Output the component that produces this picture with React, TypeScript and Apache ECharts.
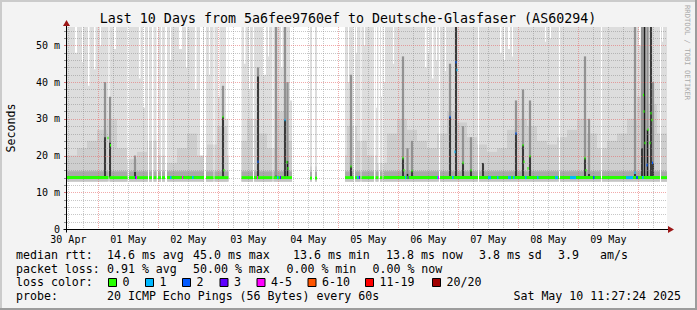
import React, { useEffect, useRef } from "react";
import * as echarts from "echarts";

const MONO = '"DejaVu Sans Mono", "Liberation Mono", monospace';

// time axis: hours since 30 Apr 00:00 (graph spans 30 Apr 11:27 .. 10 May 11:27)
const START_H = 11.45;
const END_H = 251.45;
const Y_MAX = 55; // ms
const SMOKE_MIN = 12.9;

const dayLabels = ["30 Apr", "01 May", "02 May", "03 May", "04 May", "05 May", "06 May", "07 May", "08 May", "09 May"];
const dayLabelHours = [12, 36, 60, 84, 108, 132, 156, 180, 204, 228];

// periods with data
const presentRuns = [[11.45, 76.05], [81.25, 101.45], [108.65, 109.45], [110.65, 111.45], [122.65, 251.45]];
const runMedian = [14.0, 14.0, 13.9, 13.9, 14.0];

// short periods without data
const gapHours = [28.05, 35.65, 43.85, 45.45, 47.25, 49.05, 50.65, 66.25, 70.05, 85.85, 93.65, 126.05, 128.85, 134.25, 136.05, 137.65, 160.25, 175.85, 208.25, 225.05, 248.65];
const gapWidths = [0.4, 0.6, 0.4, 0.6, 0.6, 0.4, 0.8, 0.8, 0.4, 0.4, 0.4, 0.6, 0.4, 0.6, 0.6, 0.4, 0.4, 0.4, 0.4, 0.4, 0.4];

// bins where the slowest ping stayed below the top of the graph
const notchHours = [14.65, 17.45, 19.85, 22.25, 24.65, 30.25, 40.25, 41.85, 52.65, 56.25, 59.05, 62.65, 64.65, 68.25, 71.85, 75.05, 82.25, 84.25, 89.85, 91.85, 97.05, 100.65, 123.85, 127.05, 130.25, 135.05, 137.05, 138.25, 141.85, 154.65, 155.85, 157.45, 159.05, 162.65, 184.65, 186.25, 187.85, 189.45, 202.65, 204.65, 240.25, 249.45];
const notchWidths = [0.8, 0.4, 0.6, 0.6, 0.4, 0.8, 0.6, 0.8, 0.4, 1.2, 0.4, 0.6, 1.2, 0.4, 0.6, 0.8, 0.6, 0.4, 1.2, 0.4, 0.6, 0.8, 0.4, 0.4, 0.4, 0.4, 0.4, 0.4, 0.4, 0.6, 0.4, 0.6, 0.4, 0.4, 0.6, 0.4, 0.8, 0.4, 0.4, 0.4, 0.8, 0.4];
const notchBottoms = [48, 45.5, 39, 43.5, 50, 49, 41, 33, 46, 49, 44, 38, 19.6, 42, 36, 30, 45, 38, 42, 47, 44, 35, 40, 48, 50, 33, 36, 40, 45, 44, 48, 41, 46, 43, 48, 46, 49, 47, 51, 52, 50, 51];

// upper edge of the denser smoke, 4-hour bins from START_H
const MID_BIN_H = 4;
const midTop = [20, 22, 24, 27, 30, 22, 19, 21, 24, 20, 18, 22, 26, 20, 23, 28, 20, 24, 30, 26, 22, 32, 24, 0, 17, 0, 0, 20, 28, 24, 20, 18, 26, 30, 27, 24, 22, 26, 32, 29, 25, 23, 21, 22, 27, 30, 28, 24, 23, 25, 27, 30, 26, 22, 24, 26, 30, 36, 34, 26];

// latency spikes
const spikeHours = [26.65, 28.65, 38.65, 73.85, 87.85, 95.05, 98.65, 99.65, 125.05, 145.85, 147.65, 149.45, 164.65, 167.05, 169.85, 173.05, 177.85, 191.05, 193.85, 196.65, 218.65, 220.25, 238.65, 241.45, 242.45, 243.65, 245.05, 245.85];
const spikeBlack = [25, 23.5, 15.5, 30.5, 41.5, 14.5, 29.7, 18.5, 17, 19.3, 15, 15.8, 30.5, 55, 18, 16, 18, 26, 22.8, 19.8, 19.3, 15, 15, 22, 55, 27, 55, 18];
const spikeDark = [40, 36, 20, 39, 44, 55, 55, 40, 42, 47, 22, 24, 45, 55, 28, 25, 18, 35, 38, 35, 47, 30, 55, 55, 55, 55, 55, 40];

// median values away from the baseline
const dotHours = [27.85, 28.85, 73.85, 74.25, 87.85, 98.65, 99.45, 99.85, 125.05, 145.85, 146.25, 149.45, 164.65, 167.05, 167.45, 166.65, 169.85, 173.05, 191.05, 193.85, 194.25, 195.85, 196.65, 218.65, 219.05, 238.65, 242.05, 242.25, 242.65, 243.45, 243.85, 244.65, 245.05, 245.45, 245.65];
const dotValues = [24.8, 22.8, 30.5, 16, 18.3, 29.7, 18.2, 16.5, 17, 19.3, 16, 15.8, 30.5, 45.4, 43.3, 21, 18, 16, 26, 22.8, 18.3, 16.5, 19.8, 19.3, 16, 15.3, 36.5, 32, 23.4, 17.4, 27, 23.4, 31.5, 29.7, 18];
const dotLoss = [0, 0, 0, 0, 2, 1, 0, 0, 0, 0, 0, 0, 2, 2, 1, 1, 0, 0, 2, 0, 0, 0, 0, 0, 0, 1, 0, 0, 0, 2, 0, 0, 0, 0, 2];

// baseline median segments with packet loss
const bitHours = [38.65, 39.05, 52.65, 57.45, 61.45, 87.45, 95.45, 96.65, 127.45, 128.25, 146.65, 147.65, 159.45, 159.85, 165.45, 179.85, 183.45, 187.85, 189.85, 194.65, 199.45, 206.65, 212.65, 221.85, 235.05, 239.05, 241.45];
const bitWidths = [0.4, 0.4, 0.6, 0.4, 0.6, 0.4, 0.6, 0.4, 0.6, 0.4, 0.4, 0.4, 0.6, 0.4, 0.6, 1.2, 0.6, 1.2, 0.6, 0.6, 0.6, 1.2, 2.4, 0.6, 2.8, 0.8, 0.6];
const bitLoss = [3, 4, 1, 4, 1, 4, 1, 3, 1, 3, 1, 3, 1, 4, 1, 1, 1, 1, 1, 1, 1, 1, 1, 2, 1, 2, 1];

const lossLabels = ["0", "1", "2", "3", "4-5", "6-10", "11-19", "20/20"];
const lossColors = ["#26ff00", "#00b8ff", "#0059ff", "#5e00ff", "#ff00ff", "#ff5500", "#ff0000", "#a00000"];

const rttStats = [14.6, 45.0, 13.6, 13.8];
const rttSd = 3.8;
const rttAmS = 3.9;
const lossStats = [0.91, 50.0, 0.0, 0.0];
const probeText = "20 ICMP Echo Pings (56 Bytes) every 60s";
const stampText = "Sat May 10 11:27:24 2025";
const titleText = "Last 10 Days from 5a6fee9760ef to Deutsche-Glasfaser (AS60294)";

function buildSegments() {
  const gaps = gapHours.map((g, i) => [g, g + gapWidths[i]]).sort((a, b) => a[0] - b[0]);
  const out: number[][] = [];
  presentRuns.forEach(([a, b], ri) => {
    let cur = a;
    for (const [g0, g1] of gaps) {
      if (g1 <= cur || g0 >= b) continue;
      if (g0 > cur) out.push([cur, g0, ri]);
      cur = Math.max(cur, g1);
    }
    if (cur < b) out.push([cur, b, ri]);
  });
  return out;
}

function rectSeries(data: number[][], fill: string | ((api: any) => string), z = 2) {
  return {
    type: "custom",
    silent: true,
    clip: true,
    z,
    encode: { x: [0, 1], y: [2, 3] },
    data,
    renderItem: (_p: any, api: any) => {
      const p0 = api.coord([api.value(0), api.value(3)]);
      const p1 = api.coord([api.value(1), api.value(2)]);
      return {
        type: "rect",
        shape: { x: p0[0], y: p0[1], width: p1[0] - p0[0], height: p1[1] - p0[1] },
        style: { fill: typeof fill === "function" ? fill(api) : fill },
      };
    },
  };
}

function buildOption() {
  const segs = buildSegments();

  const lightItems = segs.map(([a, b]) => [a, b, SMOKE_MIN, Y_MAX]);
  const notchItems = notchHours.map((h, i) => [h, h + notchWidths[i], notchBottoms[i], Y_MAX]);
  const midItems: number[][] = [];
  midTop.forEach((top, i) => {
    if (!top) return;
    const b0 = START_H + i * MID_BIN_H;
    const b1 = b0 + MID_BIN_H;
    segs.forEach(([a, b]) => {
      const s = Math.max(a, b0);
      const e = Math.min(b, b1);
      if (e > s) midItems.push([s, e, SMOKE_MIN, top]);
    });
  });
  const bandHigh = segs.map(([a, b, ri]) => [a, b, runMedian[ri] + 0.4, runMedian[ri] + 1.7]);
  const bandLow = segs.map(([a, b, ri]) => [a, b, SMOKE_MIN, runMedian[ri] - 0.4]);
  const spikeDarkItems = spikeHours.map((h, i) => [h - 0.45, h + 0.45, 14, spikeDark[i]]);
  const spikeBlackItems = spikeHours.map((h, i) => [h - 0.3, h + 0.3, 14, spikeBlack[i]]);
  const medianItems = segs.map(([a, b, ri]) => [a, b, runMedian[ri] - 0.4, runMedian[ri] + 0.4, 0]);
  const bitItems = bitHours.map((h, i) => [h, h + bitWidths[i], runMedian[4] - 0.4, runMedian[4] + 0.4, bitLoss[i]]);
  const dotItems = dotHours.map((h, i) => [h - 0.22, h + 0.22, dotValues[i] - 0.35, dotValues[i] + 0.35, dotLoss[i]]);

  const xGrid: number[][] = [];
  for (let h = 12; h < END_H; h += 6) xGrid.push([h, 0, h % 24 === 0 ? 1 : 0]);
  const yGrid: number[][] = [];
  for (let v = 2; v < Y_MAX; v += 2) yGrid.push([START_H, v, v % 10 === 0 ? 1 : 0]);

  const MINOR = "rgba(130,130,130,0.45)";
  const MAJOR = "rgba(230,100,100,0.55)";
  const ARROW = "#9c1717";

  const lossFill = (api: any) => lossColors[api.value(4)];

  const legendFont = 11.6;
  const txt = (x: number, y: number, text: string, align = "left") => ({
    type: "text",
    x,
    y,
    silent: true,
    style: { text, fill: "#000", fontFamily: MONO, fontSize: legendFont, align, verticalAlign: "middle" },
  });

  const graphics: any[] = [
    { type: "rect", shape: { x: 0, y: 0, width: 697, height: 2 }, style: { fill: "#cbcbcb" }, silent: true },
    { type: "rect", shape: { x: 0, y: 0, width: 2, height: 310 }, style: { fill: "#cbcbcb" }, silent: true },
    { type: "rect", shape: { x: 695, y: 0, width: 2, height: 310 }, style: { fill: "#9c9c9c" }, silent: true },
    { type: "rect", shape: { x: 0, y: 308, width: 697, height: 2 }, style: { fill: "#9c9c9c" }, silent: true },
    {
      type: "text", x: 348, y: 18.5, silent: true,
      style: { text: titleText, fill: "#000", fontFamily: MONO, fontSize: 13.3, align: "center", verticalAlign: "middle" },
    },
    {
      type: "text", x: 11, y: 128, rotation: Math.PI / 2, silent: true,
      style: { text: "Seconds", fill: "#000", fontFamily: MONO, fontSize: 11.6, align: "center", verticalAlign: "middle" },
    },
    {
      type: "text", x: 687, y: 5, rotation: -Math.PI / 2, silent: true,
      style: { text: "RRDTOOL / TOBI OETIKER", fill: "#aaaaaa", fontFamily: MONO, fontSize: 7.2, align: "left", verticalAlign: "middle" },
    },
    txt(16, 255, "median rtt:"),
    txt(107, 255, `${rttStats[0].toFixed(1)} ms avg`),
    txt(193, 255, `${rttStats[1].toFixed(1)} ms max`),
    txt(293, 255, `${rttStats[2].toFixed(1)} ms min`),
    txt(386, 255, `${rttStats[3].toFixed(1)} ms now`),
    txt(479, 255, `${rttSd.toFixed(1)} ms sd`),
    txt(558, 255, `${rttAmS.toFixed(1)}`),
    txt(600, 255, "am/s"),
    txt(16, 268.5, "packet loss:"),
    txt(107, 268.5, `${lossStats[0].toFixed(2)} % avg`),
    txt(193, 268.5, `${lossStats[1].toFixed(2)} % max`),
    txt(286.5, 268.5, `${lossStats[2].toFixed(2)} % min`),
    txt(372.5, 268.5, `${lossStats[3].toFixed(2)} % now`),
    txt(16, 282, "loss color:"),
    txt(16, 295.5, "probe:"),
    txt(107, 295.5, probeText),
    txt(681, 295.5, stampText, "right"),
  ];
  const boxX = [108, 145, 182, 219.5, 256.5, 307.5, 365, 432];
  lossLabels.forEach((lab, i) => {
    graphics.push({
      type: "rect", silent: true,
      shape: { x: boxX[i] + 0.5, y: 278.5, width: 8, height: 8 },
      style: { fill: lossColors[i], stroke: "#000", lineWidth: 1 },
    });
    graphics.push(txt(boxX[i] + 14.5, 282, lab));
  });

  return {
    animation: false,
    backgroundColor: "#f3f3f3",
    grid: { left: 67, right: 30, top: 27, bottom: 81, show: true, backgroundColor: "#ffffff", borderWidth: 0 },
    xAxis: {
      type: "value",
      min: START_H,
      max: END_H,
      axisLine: { show: false },
      axisTick: { show: false },
      splitLine: { show: false },
      axisLabel: {
        customValues: dayLabelHours,
        formatter: (v: number) => dayLabels[Math.round((v - 12) / 24)] ?? "",
        fontFamily: MONO,
        fontSize: 10,
        color: "#000",
        margin: 5,
      },
    },
    yAxis: {
      type: "value",
      min: 0,
      max: Y_MAX,
      interval: 10,
      axisLine: { show: false },
      axisTick: { show: false },
      splitLine: { show: false },
      axisLabel: {
        formatter: (v: number) => (v % 10 !== 0 ? "" : v === 0 ? "0" : `${v} m`),
        showMaxLabel: false,
        fontFamily: MONO,
        fontSize: 10,
        color: "#000",
        margin: 7,
      },
    },
    graphic: graphics,
    series: [
      rectSeries(lightItems, "#dddddd"),
      rectSeries(notchItems, "#ffffff"),
      rectSeries(midItems, "#cecece"),
      rectSeries(bandLow, "#c4c4c4"),
      rectSeries(bandHigh, "#a9a9a9"),
      rectSeries(spikeDarkItems, "#929292"),
      rectSeries(spikeBlackItems, "#1c1c1c"),
      {
        type: "custom", silent: true, clip: false, data: xGrid, encode: { x: 0, y: 1 },
        renderItem: (_p: any, api: any) => {
          const top = api.coord([api.value(0), Y_MAX]);
          const bot = api.coord([api.value(0), 0]);
          const x = Math.round(top[0]) + 0.5;
          const major = api.value(2) === 1;
          return {
            type: "line",
            shape: { x1: x, y1: top[1], x2: x, y2: bot[1] },
            style: { stroke: major ? MAJOR : MINOR, lineWidth: 1, lineDash: [1, 1] },
          };
        },
      },
      {
        type: "custom", silent: true, clip: false, data: yGrid, encode: { x: 0, y: 1 },
        renderItem: (_p: any, api: any) => {
          const l = api.coord([START_H, api.value(1)]);
          const r = api.coord([END_H, api.value(1)]);
          const y = Math.round(l[1]) + 0.5;
          const major = api.value(2) === 1;
          return {
            type: "group",
            children: [
              { type: "line", shape: { x1: l[0], y1: y, x2: r[0], y2: y }, style: { stroke: major ? MAJOR : MINOR, lineWidth: 1, lineDash: [1, 1] } },
              { type: "line", shape: { x1: l[0] - 3, y1: y, x2: l[0] - 1, y2: y }, style: { stroke: major ? "#d07070" : "#909090", lineWidth: 1 } },
            ],
          };
        },
      },
      rectSeries(medianItems, lossFill),
      rectSeries(bitItems, lossFill),
      rectSeries(dotItems, lossFill),
      {
        type: "custom", silent: true, clip: false, data: [[START_H, 0]], encode: { x: 0, y: 1 },
        renderItem: (_p: any, api: any) => {
          const o = api.coord([START_H, 0]);
          const e = api.coord([END_H, 0]);
          const t = api.coord([START_H, Y_MAX]);
          const ox = Math.floor(o[0]) - 0.5;
          const oy = Math.round(o[1]) + 0.5;
          return {
            type: "group",
            children: [
              { type: "line", shape: { x1: ox - 3, y1: oy, x2: e[0] + 2, y2: oy }, style: { stroke: "#000", lineWidth: 1 } },
              { type: "line", shape: { x1: ox, y1: oy + 3, x2: ox, y2: t[1] - 1 }, style: { stroke: "#000", lineWidth: 1 } },
              { type: "polygon", shape: { points: [[e[0] + 1, oy - 3.5], [e[0] + 7, oy], [e[0] + 1, oy + 3.5]] }, style: { fill: ARROW } },
              { type: "polygon", shape: { points: [[ox - 3.5, t[1] - 1], [ox, t[1] - 7], [ox + 3.5, t[1] - 1]] }, style: { fill: ARROW } },
            ],
          };
        },
      },
    ],
  };
}

export default function App() {
  const ref = useRef<HTMLDivElement>(null);
  useEffect(() => {
    if (!ref.current) return;
    const chart = echarts.init(ref.current, null, { renderer: "svg" });
    chart.setOption(buildOption() as any);
    return () => chart.dispose();
  }, []);
  return <div ref={ref} style={{ position: "absolute", left: 0, top: 0, width: 697, height: 310 }} />;
}
